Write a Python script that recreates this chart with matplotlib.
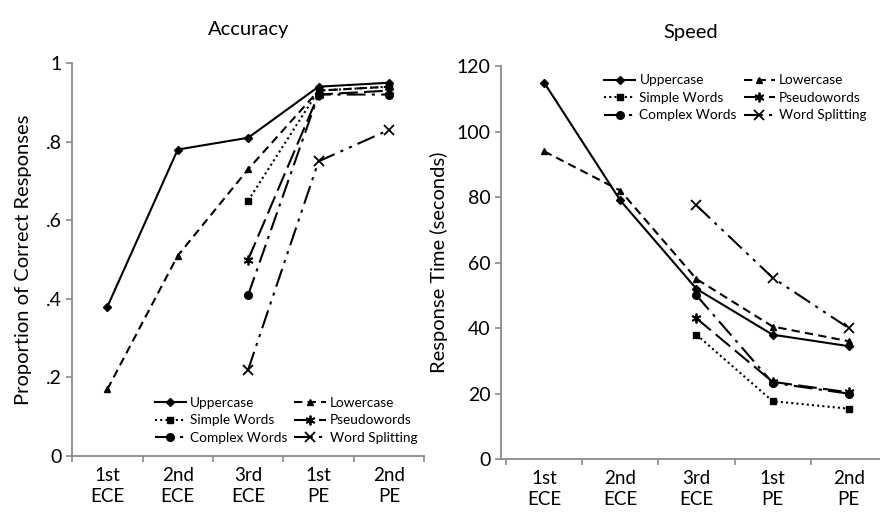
import matplotlib.pyplot as plt
import numpy as np

plt.rcParams['font.family'] = ['Lato', 'DejaVu Sans']

# grades on x axis
grades = ['1st\nECE', '2nd\nECE', '3rd\nECE', '1st\nPE', '2nd\nPE']
series_names = ['Uppercase', 'Lowercase', 'Simple Words', 'Pseudowords',
                'Complex Words', 'Word Splitting']

# accuracy (proportion correct), None = not tested
acc_upper = [0.38, 0.78, 0.81, 0.94, 0.95]
acc_lower = [0.17, 0.51, 0.73, 0.93, 0.94]
acc_simple = [None, None, 0.65, 0.93, 0.94]
acc_pseudo = [None, None, 0.50, 0.92, 0.93]
acc_complex = [None, None, 0.41, 0.92, 0.92]
acc_split = [None, None, 0.22, 0.75, 0.83]

# speed (response time, seconds)
rt_upper = [115, 79, 52, 38, 34.5]
rt_lower = [94, 82, 55, 40.5, 36]
rt_simple = [None, None, 38, 17.7, 15.4]
rt_pseudo = [None, None, 43, 23.6, 20.4]
rt_complex = [None, None, 50, 23.3, 20]
rt_split = [None, None, 77.5, 55.4, 40]

styles = [
    dict(ls='-', marker='D', ms=4.5),
    dict(ls=(0, (4, 2.5)), marker='^', ms=5),
    dict(ls=(0, (1, 1.5)), marker='s', ms=5),
    dict(ls=(0, (9, 3)), marker=(6, 2, 0), ms=7, mew=1.3),
    dict(ls=(0, (9, 3, 1.5, 3)), marker='o', ms=5.5),
    dict(ls=(0, (9, 3, 1.5, 3, 1.5, 3)), marker='x', ms=7, mew=1.3),
]


def to_arr(vals):
    return np.array([np.nan if v is None else v for v in vals], dtype=float)


def style_axes(ax):
    for s in ['top', 'right']:
        ax.spines[s].set_visible(False)
    for s in ['left', 'bottom']:
        ax.spines[s].set_color('#8a8a8a')
        ax.spines[s].set_linewidth(1.3)
    ax.set_xticks(np.arange(len(grades)))
    ax.set_xticklabels(grades, fontsize=13.5, linespacing=1.25)
    ax.tick_params(axis='x', length=0, pad=8)
    ax.set_xticks(np.arange(len(grades) + 1) - 0.5, minor=True)
    ax.tick_params(axis='x', which='minor', length=4, color='#8a8a8a', width=1.2)
    ax.tick_params(axis='y', length=4, color='#8a8a8a', width=1.2, labelsize=14)


def legend_rowwise(ax, **kw):
    # matplotlib fills legend columns first; reorder so rows read left to right
    h, l = ax.get_legend_handles_labels()
    order = [0, 2, 4, 1, 3, 5]
    ax.legend([h[i] for i in order], [l[i] for i in order], **kw)


fig = plt.figure(figsize=(8.8, 5.13), dpi=100)
ax1 = fig.add_axes([0.082, 0.111, 0.40, 0.766])
ax2 = fig.add_axes([0.569, 0.105, 0.431, 0.766])

acc = [acc_upper, acc_lower, acc_simple, acc_pseudo, acc_complex, acc_split]
rt = [rt_upper, rt_lower, rt_simple, rt_pseudo, rt_complex, rt_split]
x = np.arange(len(grades))

for name, st, a, r in zip(series_names, styles, acc, rt):
    ya = to_arr(a)
    yr = to_arr(r)
    m = ~np.isnan(ya)
    ax1.plot(x[m], ya[m], color='black', lw=1.5, label=name, **st)
    m = ~np.isnan(yr)
    ax2.plot(x[m], yr[m], color='black', lw=1.5, label=name, **st)

style_axes(ax1)
ax1.set_xlim(-0.5, 4.5)
ax1.set_ylim(0, 1)
ax1.set_yticks([0, 0.2, 0.4, 0.6, 0.8, 1])
ax1.set_yticklabels(['0', '.2', '.4', '.6', '.8', '1'])
ax1.set_ylabel('Proportion of Correct Responses', fontsize=14.5, labelpad=10)
ax1.set_title('Accuracy', fontsize=14.5, pad=20)

style_axes(ax2)
ax2.set_xlim(-0.57, 4.41)
ax2.set_ylim(0, 120)
ax2.set_yticks(np.arange(0, 121, 20))
ax2.set_ylabel('Response Time (seconds)', fontsize=14.5, labelpad=6)
ax2.set_title('Speed', fontsize=14.5, pad=20)

leg_kw = dict(ncol=2, frameon=False, fontsize=9.8, handlelength=2.3,
              columnspacing=0.5, handletextpad=0.3, labelspacing=0.4)
legend_rowwise(ax1, loc='lower left', bbox_to_anchor=(0.2, 0.0), **leg_kw)
legend_rowwise(ax2, loc='upper left', bbox_to_anchor=(0.24, 1.01), **leg_kw)

fig.savefig('out.png', dpi=100)
